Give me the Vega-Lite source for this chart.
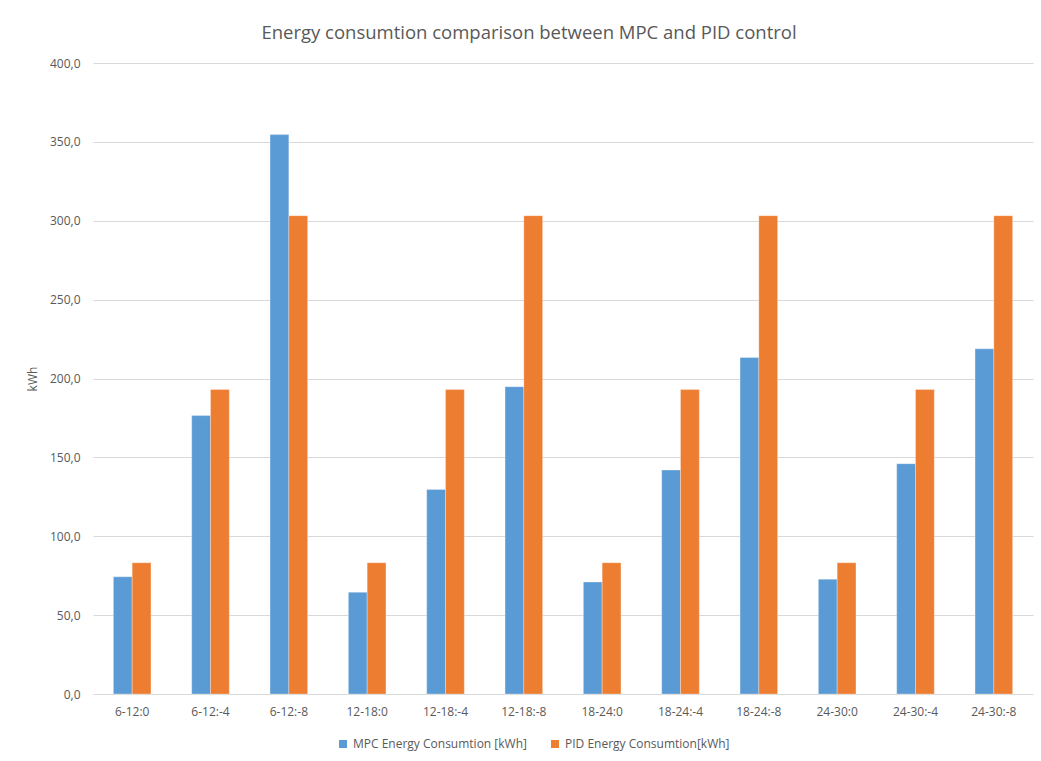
{
  "$schema": "https://vega.github.io/schema/vega-lite/v6.json",
  "width": 940,
  "height": 631,
  "autosize": {"type": "none"},
  "padding": {"left": 93, "top": 63, "right": 8, "bottom": 67},
  "background": "white",
  "title": {
    "text": "Energy consumtion comparison between MPC and PID control",
    "fontSize": 18.5,
    "font": "Open Sans",
    "fontWeight": "normal",
    "color": "#595959",
    "anchor": "middle",
    "frame": "group",
    "offset": 15,
    "dx": -34
  },
  "data": {
    "values": [
      {"case": "6-12:0", "series": "MPC Energy Consumtion [kWh]", "value": 74.3},
      {"case": "6-12:0", "series": "PID Energy Consumtion[kWh]", "value": 83.2},
      {"case": "6-12:-4", "series": "MPC Energy Consumtion [kWh]", "value": 176.5},
      {"case": "6-12:-4", "series": "PID Energy Consumtion[kWh]", "value": 193.0},
      {"case": "6-12:-8", "series": "MPC Energy Consumtion [kWh]", "value": 354.6},
      {"case": "6-12:-8", "series": "PID Energy Consumtion[kWh]", "value": 303.2},
      {"case": "12-18:0", "series": "MPC Energy Consumtion [kWh]", "value": 64.5},
      {"case": "12-18:0", "series": "PID Energy Consumtion[kWh]", "value": 83.2},
      {"case": "12-18:-4", "series": "MPC Energy Consumtion [kWh]", "value": 129.7},
      {"case": "12-18:-4", "series": "PID Energy Consumtion[kWh]", "value": 193.0},
      {"case": "12-18:-8", "series": "MPC Energy Consumtion [kWh]", "value": 194.8},
      {"case": "12-18:-8", "series": "PID Energy Consumtion[kWh]", "value": 303.2},
      {"case": "18-24:0", "series": "MPC Energy Consumtion [kWh]", "value": 71.0},
      {"case": "18-24:0", "series": "PID Energy Consumtion[kWh]", "value": 83.2},
      {"case": "18-24:-4", "series": "MPC Energy Consumtion [kWh]", "value": 142.0},
      {"case": "18-24:-4", "series": "PID Energy Consumtion[kWh]", "value": 193.0},
      {"case": "18-24:-8", "series": "MPC Energy Consumtion [kWh]", "value": 213.3},
      {"case": "18-24:-8", "series": "PID Energy Consumtion[kWh]", "value": 303.2},
      {"case": "24-30:0", "series": "MPC Energy Consumtion [kWh]", "value": 72.8},
      {"case": "24-30:0", "series": "PID Energy Consumtion[kWh]", "value": 83.2},
      {"case": "24-30:-4", "series": "MPC Energy Consumtion [kWh]", "value": 146.0},
      {"case": "24-30:-4", "series": "PID Energy Consumtion[kWh]", "value": 193.0},
      {"case": "24-30:-8", "series": "MPC Energy Consumtion [kWh]", "value": 218.8},
      {"case": "24-30:-8", "series": "PID Energy Consumtion[kWh]", "value": 303.2}
    ]
  },
  "mark": {"type": "bar", "stroke": "white", "strokeWidth": 0.5, "strokeOpacity": 0.6},
  "encoding": {
    "x": {
      "field": "case",
      "type": "nominal",
      "sort": null,
      "scale": {"paddingInner": 0.52, "paddingOuter": 0.26},
      "axis": {
        "title": null,
        "labelAngle": 0,
        "ticks": false,
        "domain": false,
        "labelPadding": 12,
        "labelFontSize": 12,
        "labelFont": "Open Sans",
        "labelColor": "#595959"
      }
    },
    "xOffset": {"field": "series", "type": "nominal", "sort": null},
    "y": {
      "field": "value",
      "type": "quantitative",
      "scale": {"domain": [0, 400]},
      "axis": {
        "title": "kWh",
        "values": [0, 50, 100, 150, 200, 250, 300, 350, 400],
        "labelExpr": "replace(format(datum.value, '.1f'), '.', ',')",
        "ticks": false,
        "domain": false,
        "grid": true,
        "gridColor": "#D9D9D9",
        "gridWidth": 1,
        "labelPadding": 13,
        "labelFontSize": 12,
        "labelFont": "Open Sans",
        "labelColor": "#595959",
        "titleFont": "Open Sans",
        "titleFontSize": 12,
        "titleFontWeight": "normal",
        "titleColor": "#595959",
        "titlePadding": 10
      }
    },
    "color": {
      "field": "series",
      "type": "nominal",
      "sort": null,
      "scale": {"range": ["#5B9BD5", "#ED7D31"]},
      "legend": {
        "title": null,
        "orient": "none",
        "direction": "horizontal",
        "legendX": 244,
        "legendY": 675,
        "symbolType": "square",
        "symbolSize": 64,
        "symbolStrokeWidth": 0,
        "labelFont": "Open Sans",
        "labelFontSize": 12,
        "labelColor": "#595959",
        "labelLimit": 0,
        "columnPadding": 22
      }
    }
  },
  "config": {
    "view": {"stroke": null},
    "axisX": {"grid": false}
  }
}
